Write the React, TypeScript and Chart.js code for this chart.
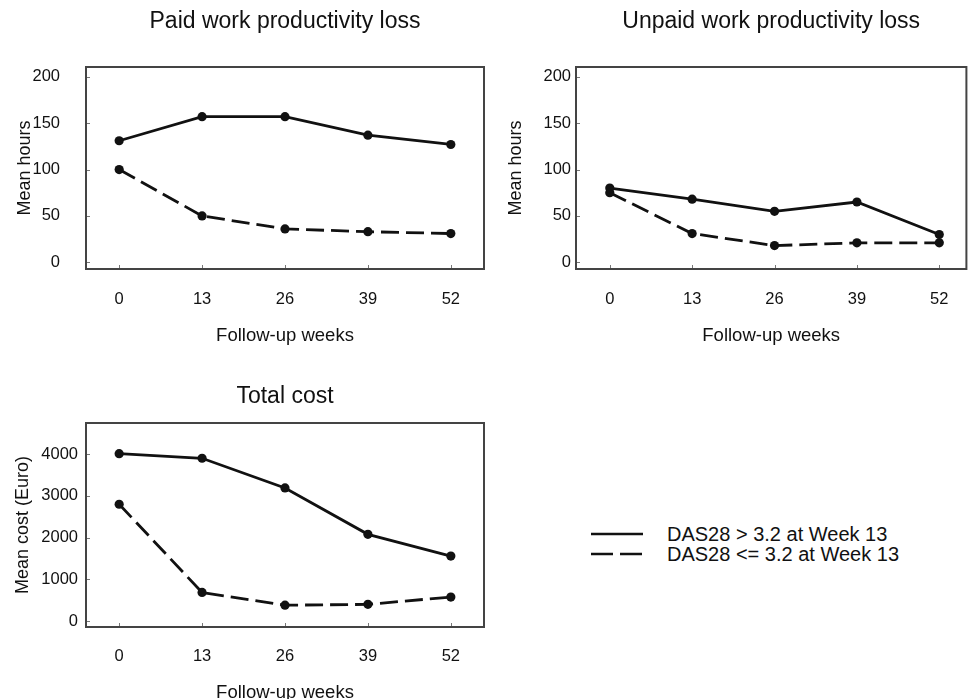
import React, { useEffect, useRef } from "react";
import { Chart, registerables } from "chart.js";

Chart.register(...registerables);

const FONT = "'Liberation Sans', Arial, Helvetica, sans-serif";
Chart.defaults.font.family = FONT;
Chart.defaults.color = "#111";

// ---- data ----
const weeks = [0, 13, 26, 39, 52];
const weekTicks = [0, 13, 26, 39, 52];
const hourTicks = [0, 50, 100, 150, 200];
const costTicks = [0, 1000, 2000, 3000, 4000];

const paidAbove = [131, 157, 157, 137, 127];
const paidBelow = [100, 50, 36, 33, 31];
const unpaidAbove = [80, 68, 55, 65, 30];
const unpaidBelow = [75, 31, 18, 21, 21];
const costAbove = [4010, 3900, 3190, 2080, 1560];
const costBelow = [2800, 690, 385, 405, 580];

const legendLabels = ["DAS28 > 3.2 at Week 13", "DAS28 <= 3.2 at Week 13"];
const chartTitles = ["Paid work productivity loss", "Unpaid work productivity loss", "Total cost"];
const xTitle = "Follow-up weeks";
const yTitles = ["Mean hours", "Mean hours", "Mean cost (Euro)"];

const INK = "#111";

const boxPlugin = {
  id: "boxPlugin",
  afterDraw(chart: any) {
    const { ctx, chartArea: a, scales } = chart;
    ctx.save();
    ctx.strokeStyle = "#777";
    ctx.lineWidth = 1;
    ctx.beginPath();
    weekTicks.forEach((v) => {
      const px = Math.round(scales.x.getPixelForValue(v)) + 0.5;
      ctx.moveTo(px, a.bottom);
      ctx.lineTo(px, a.bottom - 4);
    });
    scales.y.ticks.forEach((t: any) => {
      const py = Math.round(scales.y.getPixelForValue(t.value)) + 0.5;
      ctx.moveTo(a.left, py);
      ctx.lineTo(a.left + 4, py);
    });
    ctx.stroke();
    ctx.strokeStyle = "#444";
    ctx.lineWidth = 2;
    ctx.strokeRect(a.left, a.top, a.right - a.left, a.bottom - a.top);
    ctx.restore();
  },
};

type Panel = {
  title: string;
  yTitle: string;
  above: number[];
  below: number[];
  yTicks: number[];
  yMin: number;
  yMax: number;
  xMin: number;
  xMax: number;
  topH: number;
  titlePad: number;
  xAxisH: number;
  xTickPad: number;
  xTitlePad: number;
  yAxisW: number;
  yTickPad: number;
  yTitlePad: number;
  padRight: number;
};

function buildConfig(p: Panel): any {
  const pts = (arr: number[]) => weeks.map((w, i) => ({ x: w, y: arr[i] }));
  const common = {
    borderColor: INK,
    backgroundColor: INK,
    pointBackgroundColor: INK,
    pointBorderColor: INK,
    borderWidth: 2.8,
    pointRadius: 4.6,
    pointBorderWidth: 0,
    tension: 0,
    fill: false,
  };
  return {
    type: "line",
    data: {
      datasets: [
        { ...common, label: legendLabels[0], data: pts(p.above) },
        { ...common, label: legendLabels[1], data: pts(p.below), borderDash: [18, 7] },
      ],
    },
    options: {
      responsive: false,
      animation: false,
      events: [],
      layout: { padding: { left: 0, top: 0, right: p.padRight, bottom: 0 } },
      plugins: {
        legend: { display: false },
        tooltip: { enabled: false },
        title: { display: false },
      },
      scales: {
        x: {
          type: "linear",
          position: "bottom",
          min: p.xMin,
          max: p.xMax,
          afterBuildTicks: (s: any) => {
            s.ticks = weekTicks.map((v) => ({ value: v }));
          },
          afterFit: (s: any) => {
            s.height = p.xAxisH;
          },
          grid: { display: false, drawTicks: false },
          border: { display: false },
          ticks: {
            padding: p.xTickPad,
            color: INK,
            font: { size: 16.5, family: FONT },
            autoSkip: false,
            maxRotation: 0,
            callback: (v: any) => String(v),
          },
          title: {
            display: true,
            text: xTitle,
            color: INK,
            font: { size: 18.5, family: FONT },
            padding: { top: 0, bottom: p.xTitlePad },
          },
        },
        top: {
          type: "linear",
          position: "top",
          min: p.xMin,
          max: p.xMax,
          afterFit: (s: any) => {
            s.height = p.topH;
          },
          grid: { display: false, drawTicks: false },
          border: { display: false },
          ticks: { display: false },
          title: {
            display: true,
            text: p.title,
            color: INK,
            font: { size: 23, family: FONT },
            padding: { top: p.titlePad, bottom: 0 },
          },
        },
        y: {
          type: "linear",
          position: "left",
          min: p.yMin,
          max: p.yMax,
          afterBuildTicks: (s: any) => {
            s.ticks = p.yTicks.map((v) => ({ value: v }));
          },
          afterFit: (s: any) => {
            s.width = p.yAxisW;
          },
          grid: { display: false, drawTicks: false },
          border: { display: false },
          ticks: {
            padding: p.yTickPad,
            color: INK,
            font: { size: 16.5, family: FONT },
            callback: (v: any) => String(v),
          },
          title: {
            display: true,
            text: p.yTitle,
            color: INK,
            font: { size: 18, family: FONT },
            padding: { top: p.yTitlePad, bottom: 0 },
          },
        },
      },
    },
    plugins: [boxPlugin],
  };
}

const panels: Panel[] = [
  {
    title: chartTitles[0], yTitle: yTitles[0], above: paidAbove, below: paidBelow, yTicks: hourTicks,
    yMin: -7.2, yMax: 210.5, xMin: -5.2, xMax: 57.2,
    topH: 67, titlePad: 8, xAxisH: 81, xTickPad: 21, xTitlePad: 3,
    yAxisW: 86, yTickPad: 26, yTitlePad: 14, padRight: 6,
  },
  {
    title: chartTitles[1], yTitle: yTitles[1], above: unpaidAbove, below: unpaidBelow, yTicks: hourTicks,
    yMin: -7.2, yMax: 210.5, xMin: -5.33, xMax: 56.28,
    topH: 67, titlePad: 8, xAxisH: 81, xTickPad: 21, xTitlePad: 3,
    yAxisW: 86, yTickPad: 5, yTitlePad: 15, padRight: 2,
  },
  {
    title: chartTitles[2], yTitle: yTitles[2], above: costAbove, below: costBelow, yTicks: costTicks,
    yMin: -137, yMax: 4744, xMin: -5.2, xMax: 57.2,
    topH: 73, titlePad: 33, xAxisH: 83, xTickPad: 20, xTitlePad: 6,
    yAxisW: 86, yTickPad: 8, yTitlePad: 12, padRight: 6,
  },
];

const boxes = [
  { left: 0, top: 0, width: 490, height: 350 },
  { left: 490, top: 0, width: 481, height: 350 },
  { left: 0, top: 350, width: 490, height: 360 },
];

function ChartCanvas({ panel, box }: { panel: Panel; box: { left: number; top: number; width: number; height: number } }) {
  const ref = useRef<HTMLCanvasElement | null>(null);
  useEffect(() => {
    if (!ref.current) return;
    const chart = new Chart(ref.current, buildConfig(panel));
    return () => chart.destroy();
  }, [panel]);
  return (
    <canvas
      ref={ref}
      width={box.width}
      height={box.height}
      style={{ position: "absolute", left: box.left, top: box.top, width: box.width, height: box.height, display: "block" }}
    />
  );
}

export default function App() {
  return (
    <div
      style={{
        position: "absolute",
        left: 0,
        top: 0,
        width: 971,
        height: 699,
        overflow: "hidden",
        background: "#fff",
        fontFamily: FONT,
      }}
    >
      {panels.map((p, i) => (
        <ChartCanvas key={i} panel={p} box={boxes[i]} />
      ))}
      {legendLabels.map((label, i) => (
        <React.Fragment key={label}>
          <svg
            width={52}
            height={6}
            style={{ position: "absolute", left: 591, top: 531 + i * 20 }}
          >
            <line
              x1={0}
              y1={3}
              x2={52}
              y2={3}
              stroke={INK}
              strokeWidth={2.4}
              strokeDasharray={i === 0 ? undefined : "22 7"}
            />
          </svg>
          <div
            style={{
              position: "absolute",
              left: 667,
              top: 524 + i * 20,
              height: 20,
              lineHeight: "20px",
              fontSize: 20,
              color: INK,
              whiteSpace: "nowrap",
            }}
          >
            {label}
          </div>
        </React.Fragment>
      ))}
    </div>
  );
}
